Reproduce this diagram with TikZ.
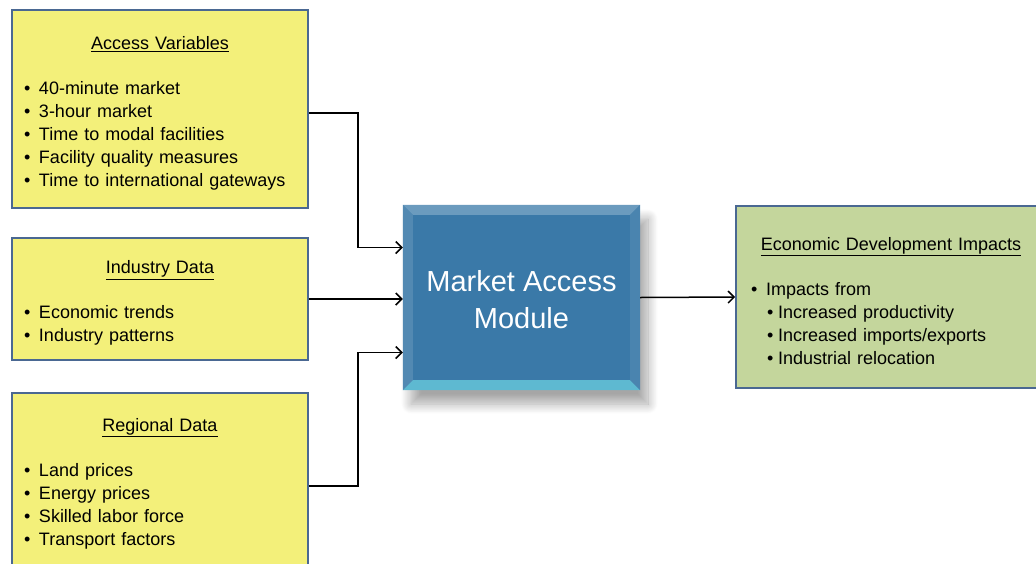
\documentclass[tikz,border=0pt]{standalone}
\usepackage{fontspec}
\setmainfont{Liberation Sans}
\usetikzlibrary{positioning, shadows.blur, arrows.meta}

\definecolor{boxyellow}{RGB}{243,240,122}
\definecolor{boxedge}{RGB}{74,104,146}
\definecolor{boxgreen}{RGB}{196,214,156}
\definecolor{modblue}{RGB}{58,121,168}

\newcommand{\boxhead}[1]{{\centering\rule{0pt}{21pt}\underline{#1}\par}\vspace{22pt}}
\newcommand{\bitem}[1]{\par\noindent\makebox[15pt][l]{\textbullet}#1}
\newcommand{\sitem}[1]{\par\noindent\hspace{16pt}\makebox[11pt][l]{\textbullet}#1}

\tikzset{
  databox/.style={draw=boxedge, line width=1.8pt, fill=boxyellow,
    text width=272pt, inner xsep=12pt, minimum width=296pt, align=left,
    font=\fontsize{18}{23}\selectfont},
  conn/.style={line width=1.5pt, -{Straight Barb[length=6pt,width=12pt]}},
}

\begin{document}
\begin{tikzpicture}[x=1pt,y=-1pt]
\useasboundingbox (0,0) rectangle (1036,563);

% input boxes
\node[databox, minimum height=198pt] (access) at (160,109) {%
  \boxhead{Access Variables}
  \bitem{40-minute market}
  \bitem{3-hour market}
  \bitem{Time to modal facilities}
  \bitem{Facility quality measures}
  \bitem{Time to international gateways}};
\node[databox, minimum height=122pt] (industry) at (160,299) {%
  \boxhead{Industry Data}
  \bitem{Economic trends}
  \bitem{Industry patterns}};
\node[databox, minimum height=173pt] (regional) at (160,479.5) {%
  \boxhead{Regional Data}
  \bitem{Land prices}
  \bitem{Energy prices}
  \bitem{Skilled labor force}
  \bitem{Transport factors}};

% module
\node[fill=modblue, minimum width=237pt, minimum height=185pt, text=white,
  align=center, font=\fontsize{29}{37}\selectfont,
  blur shadow={shadow xshift=8pt, shadow yshift=-14pt, shadow blur radius=10pt,
    shadow blur steps=15, shadow opacity=35}]
  (module) at (521.5,297.5) {\rule{0pt}{25pt}Market Access\\Module};
\fill[modblue!75!white] (module.north west) -- (module.north east) -- ([shift={(-10,10)}]module.north east) -- ([shift={(10,10)}]module.north west) -- cycle;
\fill[modblue!88!white] (module.north west) -- (module.south west) -- ([shift={(10,-10)}]module.south west) -- ([shift={(10,10)}]module.north west) -- cycle;
\fill[modblue!70!cyan!75!white] (module.south west) -- (module.south east) -- ([shift={(-10,-10)}]module.south east) -- ([shift={(10,-10)}]module.south west) -- cycle;
\fill[modblue!92!white] (module.north east) -- (module.south east) -- ([shift={(-10,-10)}]module.south east) -- ([shift={(-10,10)}]module.north east) -- cycle;

% output box
\node[databox, fill=boxgreen, text width=280pt, inner xsep=15pt, minimum width=310pt,
  minimum height=182pt] (impacts) at (891,297) {%
  \boxhead{Economic Development Impacts}
  \bitem{Impacts from}
  \sitem{Increased productivity}
  \sitem{Increased imports/exports}
  \sitem{Industrial relocation}};

% connectors
\draw[conn] ([yshift=-4pt]access.east) -- ++(49,0) |- ([yshift=50pt]module.west);
\draw[conn] (industry.east) -- (industry.east -| module.west);
\draw[conn] ([yshift=-6.5pt]regional.east) -- ++(49,0) |- ([yshift=-55pt]module.west);
\draw[conn] (module.east) -- (impacts.west);
\end{tikzpicture}
\end{document}
